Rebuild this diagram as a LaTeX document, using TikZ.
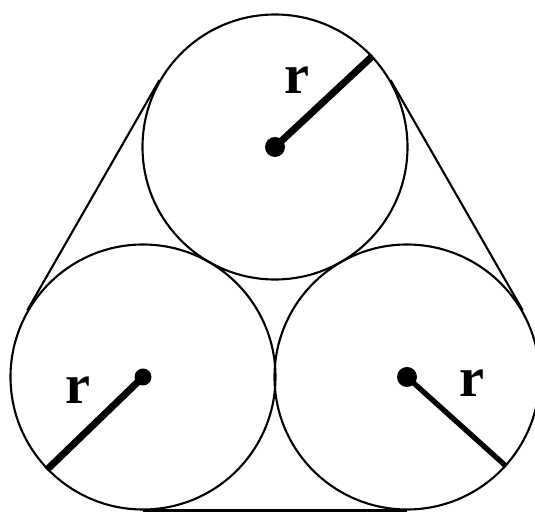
\documentclass[tikz,border=0pt]{standalone}
\usepackage{fontspec}
\setmainfont{Liberation Serif}
\usetikzlibrary{calc}

\begin{document}
\begin{tikzpicture}[
        rueda/.style={draw,circle,inner sep=0pt,minimum size=5.3cm,line width=1.2pt},
        correa/.style={line width=1.2pt},
        radio/.style={line width=4pt},
        lbl/.style={font=\fontsize{32}{32}\selectfont\bfseries}]
        \useasboundingbox (0,0) rectangle (10.7,10.28);
        % las tres ruedas
        \node[rueda] (bl) at (2.86,2.74) {};
        \node[rueda] (br) at (8.14,2.74) {};
        \node[rueda] (t) at (5.5,7.34) {};
        % correa
        \draw[correa] (bl.150) -- (t.150);
        \draw[correa] (t.30) -- (br.30);
        \draw[correa] (bl.-90) -- (br.-90);
        % radios
        \draw[radio] (t.center) -- (t.43);
        \draw[radio] (bl.center) -- (bl.224);
        \draw[radio,line width=3pt] (br.center) -- (br.-42);
        \fill (t) circle (0.2);
        \fill (bl) circle (0.17);
        \fill (br) circle (0.2);
        \node[lbl] (rt) at (5.94,8.68) {r};
        \node[lbl] (rbl) at (1.56,2.48) {r};
        \node[lbl] (rbr) at (9.44,2.62) {r};
      \end{tikzpicture}
\end{document}
